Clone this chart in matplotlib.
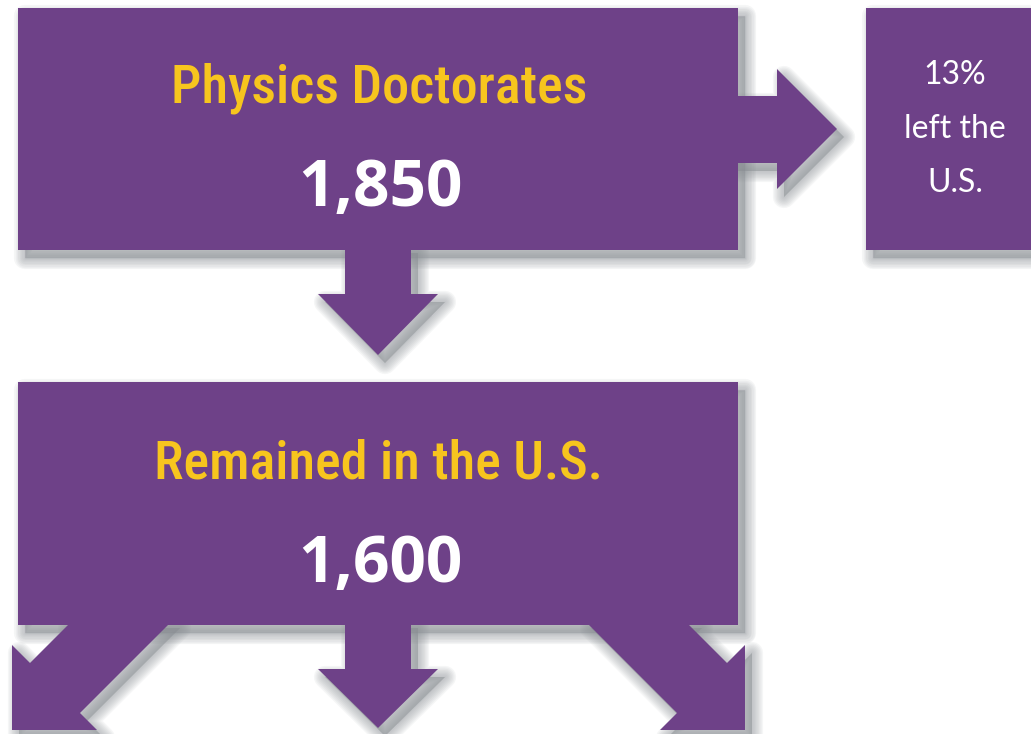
import matplotlib
matplotlib.use("Agg")
import matplotlib.pyplot as plt
from matplotlib.patches import Polygon

# ---- content ----
box_titles = ["Physics Doctorates", "Remained in the U.S."]
box_values = [1850, 1600]
side_lines = ["13%", "left the", "U.S."]

PURPLE = "#6E4188"
YELLOW = "#F7C51E"
SHADOW = "#8a8f94"

W, H = 1031, 734
fig = plt.figure(figsize=(W / 100, H / 100), dpi=100)
ax = fig.add_axes([0, 0, 1, 1])
ax.set_xlim(0, W)
ax.set_ylim(H, 0)
ax.axis("off")

def rect(x0, y0, x1, y1):
    return [(x0, y0), (x1, y0), (x1, y1), (x0, y1)]

def down_arrow(cx, y0, shaft_h, half_shaft, half_head, head_h):
    return [(cx - half_shaft, y0), (cx + half_shaft, y0), (cx + half_shaft, y0 + shaft_h),
            (cx + half_head, y0 + shaft_h), (cx, y0 + shaft_h + head_h),
            (cx - half_head, y0 + shaft_h), (cx - half_shaft, y0 + shaft_h)]

shapes = []
# boxes
shapes.append(rect(18, 8, 738, 250))
shapes.append(rect(866, 8, 1040, 250))
shapes.append(rect(18, 382, 738, 625))
# right arrow
shapes.append([(730, 96), (777, 96), (777, 69), (837, 129), (777, 189), (777, 163), (730, 163)])
# down arrow between boxes
shapes.append(down_arrow(378, 245, 49, 33, 60, 61))
# bottom middle arrow
shapes.append(down_arrow(378, 620, 49, 33, 60, 59))
# bottom-left diagonal arrow
shapes.append([(62, 620), (173, 620), (80, 713), (97, 730), (12, 730), (12, 645), (30, 663), (68, 625)])
# bottom-right diagonal arrow (mirror)
shapes.append([(757 - x, y) for (x, y) in shapes[-1]])

# soft shadows
for pts in shapes:
    sh = [(x + 7, y + 8) for (x, y) in pts]
    for k in range(8, 0, -1):
        ax.add_patch(Polygon(sh, closed=True, facecolor=SHADOW, edgecolor=SHADOW,
                             linewidth=k * 2.0, alpha=0.08, joinstyle="round", zorder=1))
for pts in shapes:
    ax.add_patch(Polygon(pts, closed=True, facecolor=PURPLE, edgecolor="none", zorder=2))

title_font = ["Roboto Condensed", "DejaVu Sans"]
num_font = ["Open Sans", "DejaVu Sans"]
side_font = ["Lato", "DejaVu Sans"]

ax.text(379, 88, box_titles[0], ha="center", va="center", color=YELLOW,
        fontsize=39, fontweight="medium", family=title_font, zorder=3)
ax.text(380, 190, f"{box_values[0]:,}", ha="center", va="center", color="white",
        fontsize=46, fontweight="bold", family=num_font, zorder=3)
ax.text(378, 464, box_titles[1], ha="center", va="center", color=YELLOW,
        fontsize=39, fontweight="medium", family=title_font, zorder=3)
ax.text(380, 565, f"{box_values[1]:,}", ha="center", va="center", color="white",
        fontsize=46, fontweight="bold", family=num_font, zorder=3)

for i, line in enumerate(side_lines):
    ax.text(955, 75 + i * 54, line, ha="center", va="center", color="white",
            fontsize=23, family=side_font, zorder=3)

fig.savefig("out.png", dpi=100)
